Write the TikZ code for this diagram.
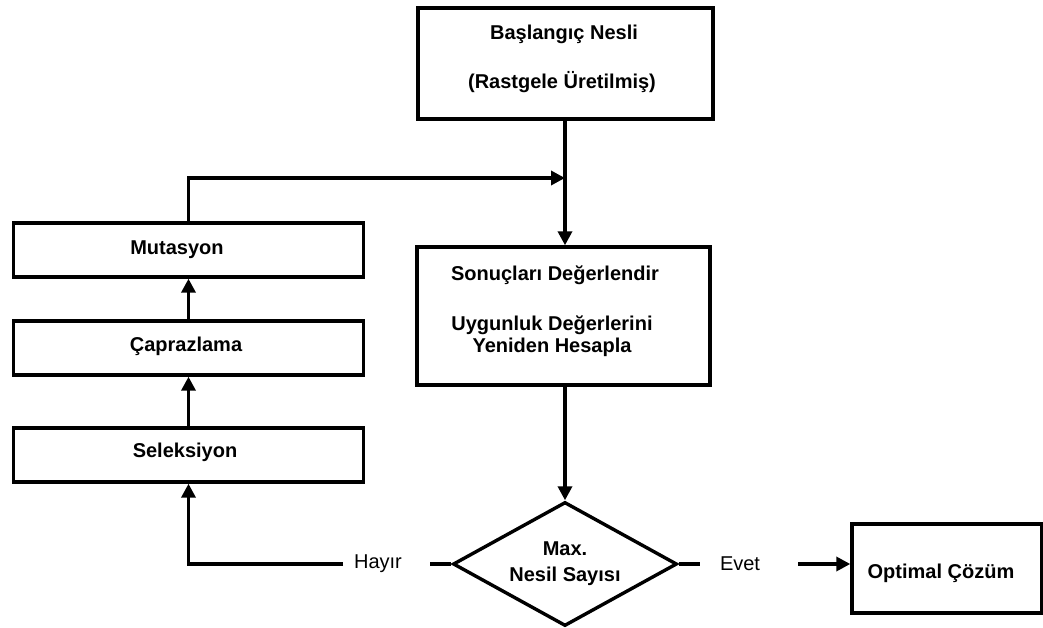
\documentclass[tikz,border=0pt]{standalone}
\usepackage{fontspec}
\setmainfont{Liberation Sans}
\usetikzlibrary{arrows.meta,shapes.geometric,positioning}
\begin{document}
\begin{tikzpicture}[x=1pt,y=-1pt,
  line width=3.4pt,
  box/.style={draw,rectangle,inner sep=0pt,font=\fontsize{20}{24}\selectfont\bfseries},
  txt/.style={inner sep=0pt,font=\fontsize{20}{24}\selectfont\bfseries,align=center},
  lbl/.style={inner sep=0pt,font=\fontsize{20}{24}\selectfont},
  arr/.style={-{Triangle[length=14pt,width=14pt]}}]
\useasboundingbox (0,0) rectangle (1043,628);
% boxes
\node[box,minimum width=295pt,minimum height=111pt] (start) at (565.5,63.5) {};
\node[txt] (startA) at (564,34) {Başlangıç Nesli};
\node[txt] (startB) at (562,82) {(Rastgele Üretilmiş)};
\node[box,minimum width=293pt,minimum height=138pt] (eval) at (563.5,316) {};
\node[txt] (evalA) at (555,275) {Sonuçları Değerlendir};
\node[txt,font=\fontsize{20}{22}\selectfont\bfseries] (evalB) at (552,336) {Uygunluk Değerlerini\\Yeniden Hesapla};
\node[box,minimum width=350pt,minimum height=54pt] (mut) at (188.5,250) {};
\node[txt] (mutT) at (177,250) {Mutasyon};
\node[box,minimum width=350pt,minimum height=54pt] (capr) at (188.5,348) {};
\node[txt] (caprT) at (186,346) {Çaprazlama};
\node[box,minimum width=350pt,minimum height=54pt] (sel) at (188.5,455) {};
\node[txt] (selT) at (185,452) {Seleksiyon};
\node[draw,diamond,inner sep=0pt,minimum width=224pt,minimum height=124pt,aspect=1.8,
  font=\fontsize{20}{26}\selectfont\bfseries,align=center] (dec) at (565,564) {Max.\\Nesil Sayısı};
\node[box,minimum width=190pt,minimum height=89pt] (opt) at (947,568.5) {};
\node[txt] (optT) at (941,573) {Optimal Çözüm};
\node[lbl] (hayir) at (378,564) {Hayır};
\node[lbl] (evet) at (740,564) {Evet};
% coordinates
\coordinate (join) at (565,178);
\coordinate (hL) at (343,564);
\coordinate (hR) at (430,564);
\coordinate (eR) at (700,564);
\coordinate (eA) at (798,564);
% connectors
\draw[arr] (start.south -| join) -- (eval.north -| join);
\draw[arr] (mut.north) |- (join);
\draw[arr] (capr.north) -- (mut.south);
\draw[arr] (sel.north) -- (capr.south);
\draw[arr] (eval.south -| join) -- (dec.north);
\draw (dec.west) -- (hR);
\draw[arr] (hL) -| (sel.south);
\draw (dec.east) -- (eR);
\draw[arr] (eA) -- (opt.west |- eA);
\end{tikzpicture}
\end{document}
